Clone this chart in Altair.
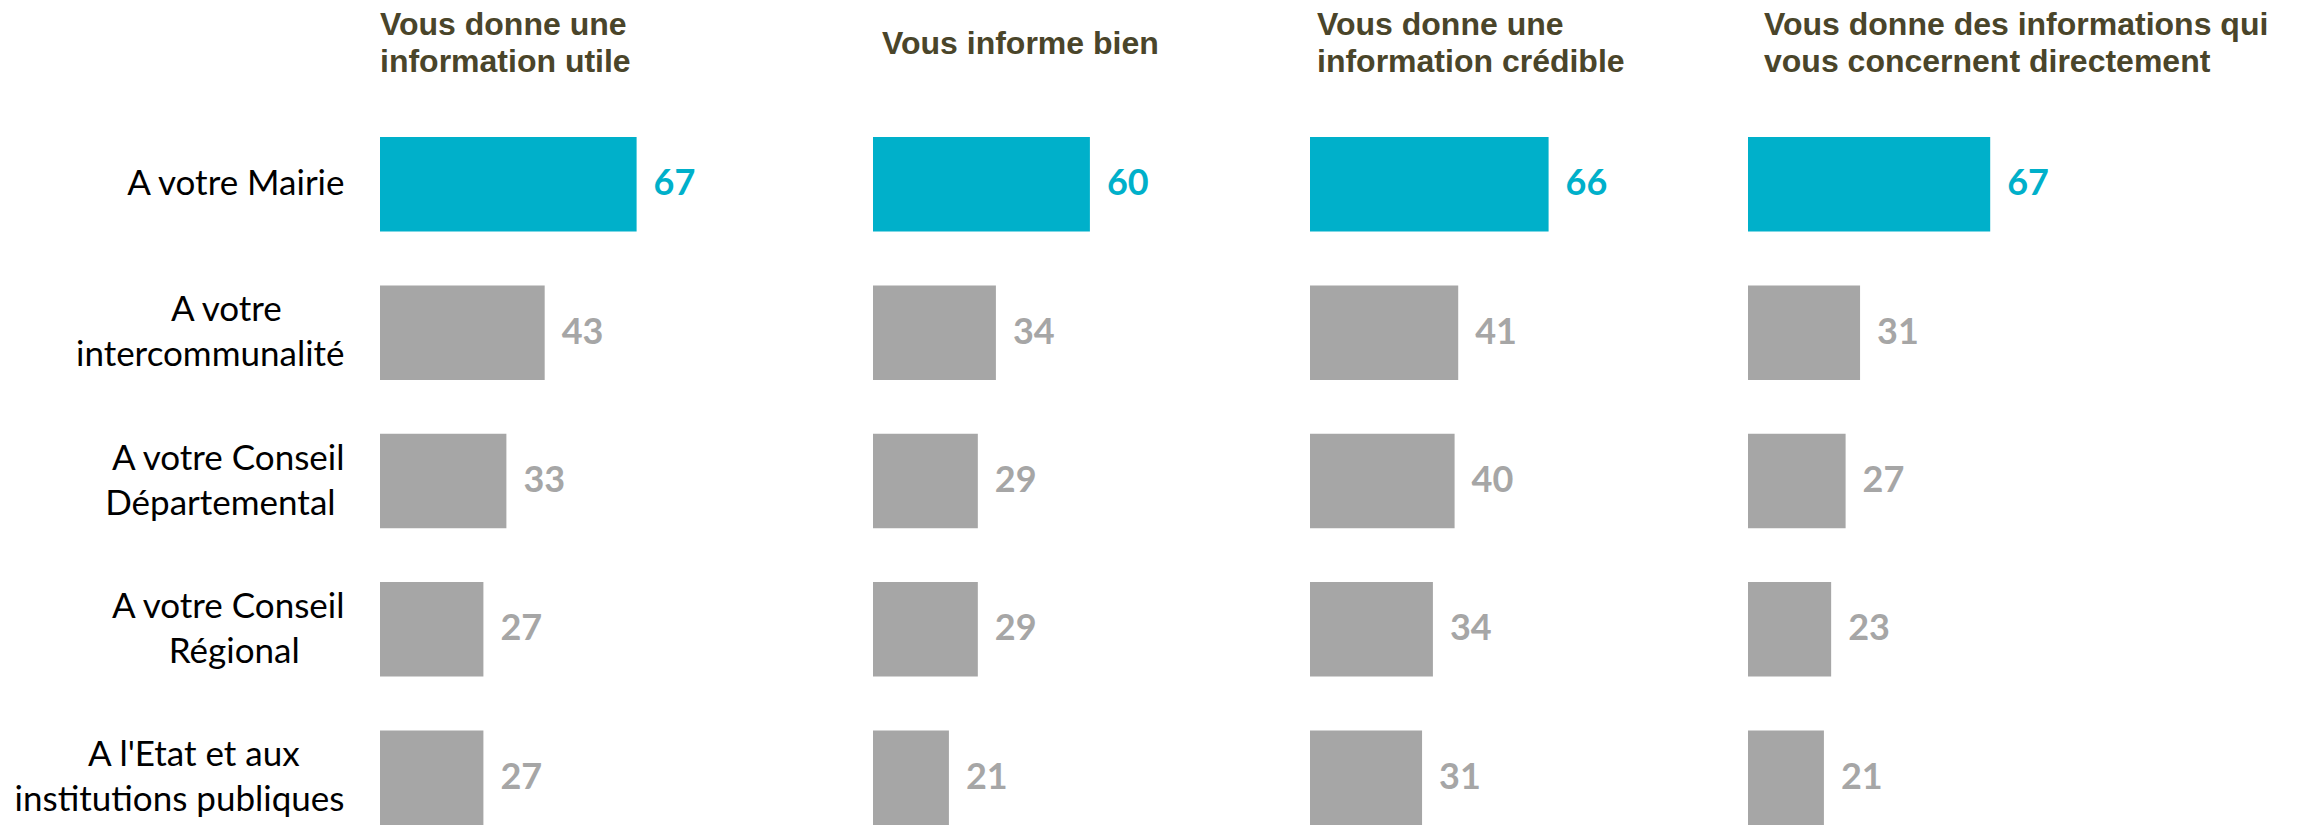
import math
import altair as alt
import pandas as pd

categories = [
    "A votre Mairie",
    "A votre\nintercommunalité",
    "A votre Conseil\nDépartemental",
    "A votre Conseil\nRégional",
    "A l'Etat et aux\ninstitutions publiques",
]
panel_titles = [
    ["Vous donne une", "information utile"],
    ["Vous informe bien"],
    ["Vous donne une", "information crédible"],
    ["Vous donne des informations qui", "vous concernent directement"],
]
utile = [67, 43, 33, 27, 27]
informe = [60, 34, 29, 29, 21]
credible = [66, 41, 40, 34, 31]
concernent = [67, 31, 27, 23, 21]
series = [utile, informe, credible, concernent]

TEAL = "#00B0CA"
GREY = "#A6A6A6"
TITLE_COLOR = "#4A452A"

widths = [493, 437, 438, 440]
px_per_unit = [3.83, 3.615, 3.615, 3.615]
title_dx = [0, 9, 7, 16]
title_offset = [21, 39, 21, 21]

NB = "\u00a0"
WJ = "\u2060"


def centred_lines(label):
    # pad the shorter line with no-break spaces so each line looks centred
    lines = label.split("\n")
    if len(lines) < 2:
        return label
    longest = max(len(s) for s in lines)
    out = []
    for s in lines:
        k = math.floor(0.8 * (longest - len(s)))
        out.append(s + (NB * k + WJ if k else ""))
    return "\n".join(out)


display = [centred_lines(c) for c in categories]

charts = []
for i, vals in enumerate(series):
    df = pd.DataFrame({"cat": display, "val": vals})
    ymax = widths[i] / px_per_unit[i]
    if i == 0:
        yaxis = alt.Axis(
            title=None, domain=False, ticks=False, labelFont="Lato",
            labelFontSize=35, labelColor="#000000", labelPadding=36,
            labelLimit=800, labelLineHeight=45, labelAlign="right",
            labelBaseline="middle", labelExpr="split(datum.label, '\\n')",
            labelOffset={"condition": {"test": "indexof(datum.value, '\\n') >= 0",
                                       "value": -22.5}, "value": 0},
        )
    else:
        yaxis = None
    y = alt.Y("cat:N", sort=display, axis=yaxis,
              scale=alt.Scale(paddingInner=0.3626, paddingOuter=0.25))
    x = alt.X("val:Q", axis=None, scale=alt.Scale(domain=[0, ymax], nice=False, zero=True))
    color = alt.condition(alt.datum.cat == display[0], alt.value(TEAL), alt.value(GREY))
    bars = alt.Chart(df).mark_bar().encode(x=x, y=y, color=color)
    texts = alt.Chart(df).mark_text(
        align="left", baseline="middle", dx=17, font="Lato",
        fontSize=36, fontWeight="bold",
    ).encode(x=x, y=y, text=alt.Text("val:Q"), color=color)
    layer = alt.layer(bars, texts).properties(
        width=widths[i], height=762,
        title=alt.TitleParams(
            text=panel_titles[i], anchor="start", align="left", frame="group",
            font="Liberation Sans", fontSize=32, fontWeight="bold",
            color=TITLE_COLOR, lineHeight=37, offset=title_offset[i],
            dx=title_dx[i],
        ),
    )
    charts.append(layer)

chart = alt.hconcat(*charts, spacing=0, bounds="flush").properties(
    padding={"left": 6, "top": 1, "right": 0, "bottom": 0},
    background="white",
).configure_view(strokeWidth=0, stroke="transparent")

chart.save("out.html", embed_options={"renderer": "svg", "actions": False})
